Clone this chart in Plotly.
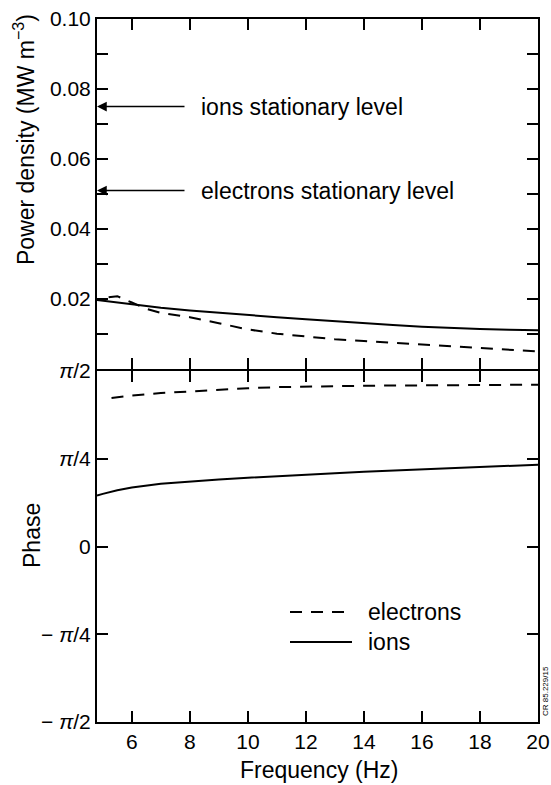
import numpy as np
import plotly.graph_objects as go

PI = np.pi

# ---- data ----
freq_ions_pow = [4.8, 6, 7, 8, 9, 10, 11, 12, 13, 14, 15, 16, 17, 18, 19, 20]
pow_ions = [0.0197, 0.0184, 0.0175, 0.0167, 0.0160, 0.0154, 0.0148, 0.0142, 0.0136,
            0.0131, 0.0126, 0.0121, 0.0117, 0.0114, 0.0112, 0.0111]

freq_el_pow = [5.2, 5.5, 6, 6.5, 7, 8, 9, 10, 11, 12, 13, 14, 15, 16, 17, 18, 19, 20]
pow_electrons = [0.0205, 0.0208, 0.0190, 0.0172, 0.0160, 0.0148, 0.0131, 0.0113, 0.0101,
                 0.0093, 0.0085, 0.0080, 0.0075, 0.0070, 0.0065, 0.0060, 0.0054, 0.0050]

freq_ions_ph = [4.8, 5, 5.5, 6, 7, 8, 9, 10, 11, 12, 13, 14, 15, 16, 17, 18, 19, 20]
phase_ions_over_pi = [0.145, 0.150, 0.160, 0.168, 0.179, 0.186, 0.191, 0.196, 0.201,
                      0.205, 0.209, 0.213, 0.216, 0.220, 0.224, 0.227, 0.230, 0.233]

freq_el_ph = [5.3, 6, 7, 8, 9, 10, 11, 12, 14, 16, 18, 20]
phase_electrons_over_pi = [0.423, 0.430, 0.437, 0.442, 0.447, 0.451, 0.454, 0.456,
                           0.458, 0.459, 0.460, 0.461]

ions_stationary = 0.075
electrons_stationary = 0.051

x_ticks = [6, 8, 10, 12, 14, 16, 18, 20]
pow_tickvals = [0.02, 0.04, 0.06, 0.08, 0.10]
pow_ticktext = ["0.02", "0.04", "0.06", "0.08", "0.10"]
phase_tickvals_over_pi = [-0.5, -0.25, 0, 0.25, 0.5]
phase_ticktext = ["\u2212 <i>\u03c0</i>/2", "\u2212 <i>\u03c0</i>/4", "0",
                  "<i>\u03c0</i>/4", "<i>\u03c0</i>/2"]

FONT = "Liberation Sans, Arial, Helvetica, sans-serif"
X_RANGE = [4.8, 20]

fig = go.Figure()

dash = "12px,9px"
fig.add_trace(go.Scatter(x=freq_ions_pow, y=pow_ions, mode="lines",
                         line=dict(color="black", width=2), xaxis="x2", yaxis="y2",
                         showlegend=False))
fig.add_trace(go.Scatter(x=freq_el_pow, y=pow_electrons, mode="lines",
                         line=dict(color="black", width=2, dash=dash), xaxis="x2", yaxis="y2",
                         showlegend=False))
fig.add_trace(go.Scatter(x=freq_ions_ph, y=[v * PI for v in phase_ions_over_pi], mode="lines",
                         line=dict(color="black", width=2), xaxis="x", yaxis="y",
                         showlegend=False))
fig.add_trace(go.Scatter(x=freq_el_ph, y=[v * PI for v in phase_electrons_over_pi], mode="lines",
                         line=dict(color="black", width=2, dash=dash), xaxis="x", yaxis="y",
                         showlegend=False))

H = 703
split = 352 / H

axis_common = dict(showline=True, linecolor="black", linewidth=2, mirror="allticks",
                   ticks="inside", ticklen=11, tickwidth=2, tickcolor="black",
                   showgrid=False, zeroline=False,
                   tickfont=dict(family=FONT, size=21, color="black"))

fig.update_layout(
    width=551, height=785,
    margin=dict(l=97, r=13, t=19, b=63, autoexpand=False),
    paper_bgcolor="white", plot_bgcolor="white",
    font=dict(family=FONT, color="black"),
    xaxis=dict(domain=[0, 1], anchor="y", range=X_RANGE, tickvals=x_ticks,
               ticktext=[str(t) for t in x_ticks], **axis_common),
    yaxis=dict(domain=[0, split - 1 / H], anchor="x", range=[-PI / 2, PI / 2],
               tickvals=[v * PI for v in phase_tickvals_over_pi], ticktext=phase_ticktext,
               **axis_common),
    xaxis2=dict(domain=[0, 1], anchor="y2", range=X_RANGE, tickvals=x_ticks,
                showticklabels=False, **axis_common),
    yaxis2=dict(domain=[split + 1 / H, 1], anchor="x2", range=[0, 0.10], tickvals=pow_tickvals,
                ticktext=pow_ticktext,
                minor=dict(dtick=0.01, tick0=0, ticks="inside", ticklen=11, tickwidth=2,
                           tickcolor="black", showgrid=False),
                **axis_common),
)

ann = []
# axis titles
ann.append(dict(text="Power density (MW m<sup>\u22123</sup>)", xref="paper", yref="paper",
                x=(24 - 97) / 441, y=(722 - 140) / H, textangle=-90, showarrow=False,
                xanchor="center", yanchor="middle", font=dict(family=FONT, size=23)))
ann.append(dict(text="Phase", xref="paper", yref="paper",
                x=(32 - 97) / 441, y=(722 - 536) / H, textangle=-90, showarrow=False,
                xanchor="center", yanchor="middle", font=dict(family=FONT, size=23)))
ann.append(dict(text="Frequency (Hz)", xref="paper", yref="paper",
                x=(319 - 97) / 441, y=(722 - 770) / H, showarrow=False,
                xanchor="center", yanchor="middle", font=dict(family=FONT, size=23)))

# stationary level arrows (to the power axis) and their labels
arrow_tail_x = X_RANGE[0] + (186 - 97) / 441 * (X_RANGE[1] - X_RANGE[0])
for lvl, label in [(ions_stationary, "ions stationary level"),
                   (electrons_stationary, "electrons stationary level")]:
    ann.append(dict(text="", x=X_RANGE[0], y=lvl, xref="x2", yref="y2",
                    ax=arrow_tail_x, ay=lvl, axref="x2", ayref="y2", showarrow=True,
                    arrowhead=2, arrowsize=1.3, arrowwidth=1.5, arrowcolor="black"))
    ann.append(dict(text=label, x=(199 - 97) / 441, y=lvl, xref="paper", yref="y2",
                    showarrow=False, xanchor="left", yanchor="middle",
                    font=dict(family=FONT, size=23)))

# legend texts
ann.append(dict(text="electrons", x=(366 - 97) / 441, y=(722 - 612) / H, xref="paper",
                yref="paper", showarrow=False, xanchor="left", yanchor="middle",
                font=dict(family=FONT, size=23)))
ann.append(dict(text="ions", x=(366 - 97) / 441, y=(722 - 642) / H, xref="paper",
                yref="paper", showarrow=False, xanchor="left", yanchor="middle",
                font=dict(family=FONT, size=23)))
# small code label
ann.append(dict(text="CR 85.229/15", x=(545 - 97) / 441, y=(722 - 691) / H, xref="paper",
                yref="paper", showarrow=False, textangle=-90, xanchor="center",
                yanchor="middle", font=dict(family=FONT, size=8)))

fig.update_layout(annotations=ann)

# legend line samples
fig.add_shape(type="line", xref="paper", yref="paper",
              x0=(290 - 97) / 441, x1=(352 - 97) / 441,
              y0=(722 - 612) / H, y1=(722 - 612) / H,
              line=dict(color="black", width=2, dash=dash))
fig.add_shape(type="line", xref="paper", yref="paper",
              x0=(290 - 97) / 441, x1=(352 - 97) / 441,
              y0=(722 - 642) / H, y1=(722 - 642) / H,
              line=dict(color="black", width=2))

fig.write_html("out.html")
